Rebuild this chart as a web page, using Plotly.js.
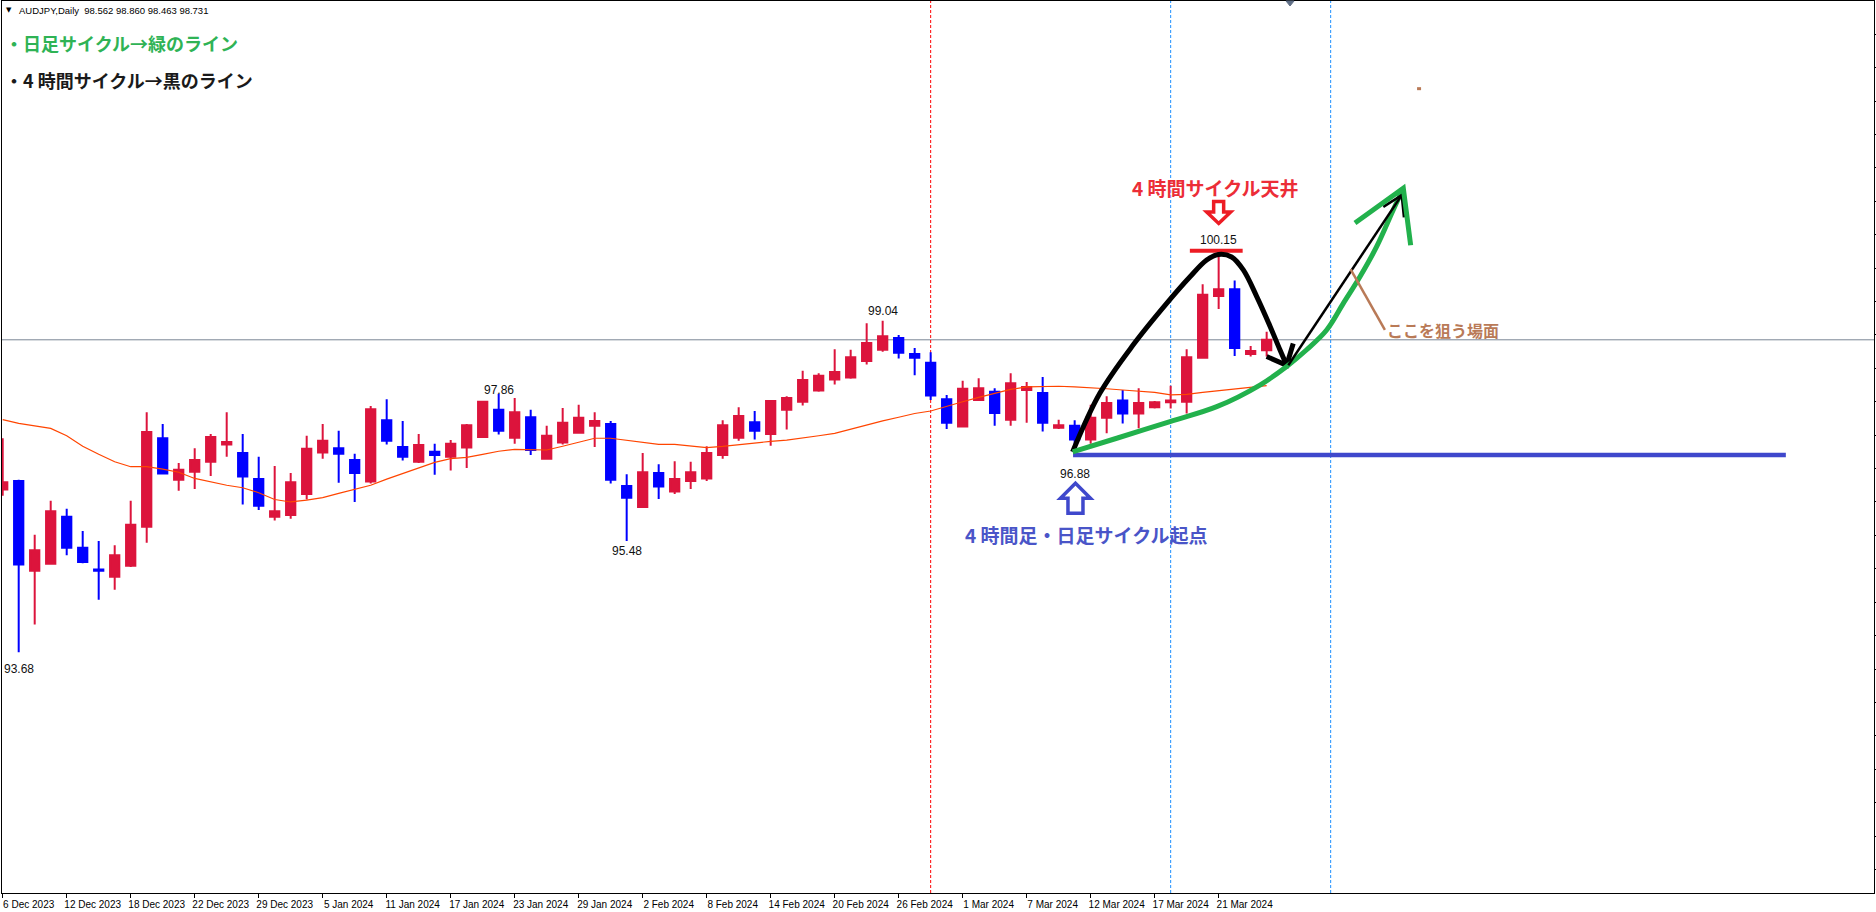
<!DOCTYPE html>
<html><head><meta charset="utf-8">
<script src="https://cdn.plot.ly/plotly-3.0.1.min.js"></script>
<style>html,body{margin:0;padding:0;background:#fff;overflow:hidden}#chart{width:1876px;height:912px}</style>
</head><body><div id="chart"></div>
<script>
// ---- AUDJPY Daily candles (bar index 0 = 6 Dec 2023) ----
const openP  = [96.31,96.45,95.00,95.11,95.87,95.37,95.02,94.90,95.08,95.71,
                97.14,96.47,96.60,96.76,97.04,96.90,96.48,95.87,95.90,96.24,
                96.91,96.98,96.79,96.44,97.43,97.00,96.76,96.92,96.84,96.99,
                97.16,97.60,97.15,97.48,96.81,97.07,97.23,97.34,97.37,96.37,
                96.03,96.58,96.28,96.45,96.49,96.87,97.15,97.40,97.21,97.60,
                97.73,97.91,98.09,98.12,98.39,98.57,98.76,98.50,98.36,97.77,
                97.33,97.76,97.89,97.44,97.92,97.87,97.31,97.34,97.12,97.47,
                97.75,97.54,97.64,97.72,97.73,98.44,99.44,99.55,98.50,98.562];
const highP  = [97.14,96.47,95.58,96.13,96.00,95.64,95.48,95.41,96.13,97.56,
                97.37,96.74,96.98,97.21,97.56,97.21,96.84,96.69,96.58,97.18,
                97.37,97.26,96.89,97.66,97.77,97.42,97.21,97.05,97.11,97.37,
                97.74,97.86,97.79,97.60,97.34,97.63,97.68,97.56,97.42,96.56,
                96.90,96.72,96.77,96.76,97.01,97.43,97.64,97.58,97.76,97.82,
                98.23,98.19,98.58,98.57,99.00,99.04,98.81,98.60,98.53,97.84,
                98.07,98.11,97.95,98.19,98.05,98.13,97.44,97.43,97.68,97.82,
                97.92,97.95,97.74,97.99,98.58,99.63,100.15,99.69,98.63,98.860];
const lowP   = [96.21,93.68,94.13,95.10,95.25,95.12,94.53,94.69,95.06,95.45,
                96.57,96.29,96.32,96.53,96.84,96.07,95.98,95.81,95.84,96.15,
                96.81,96.42,96.11,96.41,97.04,96.78,96.74,96.55,96.62,96.66,
                97.15,97.20,97.05,96.87,96.81,97.04,97.23,97.00,96.41,95.48,
                96.03,96.16,96.24,96.32,96.45,96.81,97.10,97.12,97.02,97.28,
                97.67,97.89,98.01,98.10,98.33,98.54,98.43,98.16,97.76,97.29,
                97.33,97.76,97.34,97.34,97.39,97.25,97.29,96.88,97.05,97.22,
                97.38,97.30,97.62,97.62,97.54,98.44,99.23,98.47,98.46,98.463];
const closeP = [96.43,95.10,95.33,95.96,95.37,95.14,95.00,95.25,95.74,97.24,
                96.57,96.63,96.79,97.16,97.08,96.52,96.05,95.96,96.43,96.97,
                97.10,96.89,96.58,97.61,97.10,96.84,97.03,96.87,97.05,97.35,
                97.73,97.26,97.56,96.95,97.18,97.39,97.47,97.42,96.47,96.18,
                96.59,96.36,96.48,96.59,96.90,97.35,97.50,97.26,97.74,97.79,
                98.08,98.15,98.21,98.45,98.68,98.79,98.52,98.44,97.83,97.39,
                97.94,97.95,97.55,98.03,97.97,97.39,97.35,97.12,97.47,97.71,
                97.54,97.71,97.72,97.75,98.45,99.46,99.55,98.60,98.55,98.731];
// moving average (orange-red line)
const maValues = [97.44,97.38,97.34,97.30,97.18,97.01,96.88,96.76,96.68,96.68,
                  96.64,96.59,96.49,96.43,96.38,96.34,96.26,96.15,96.11,96.14,
                  96.18,96.25,96.31,96.38,96.48,96.57,96.66,96.75,96.81,96.83,
                  96.88,96.93,96.96,96.95,96.95,97.01,97.08,97.14,97.14,97.11,
                  97.07,97.04,97.04,97.01,96.99,97.01,97.04,97.06,97.09,97.11,
                  97.14,97.18,97.22,97.29,97.35,97.42,97.48,97.54,97.58,97.66,
                  97.73,97.80,97.87,97.93,97.97,97.98,97.98,97.97,97.96,97.94,
                  97.92,97.90,97.88,97.84,97.85,97.88,97.91,97.94,97.96,97.99];
// date axis labels (every 4th bar)
const tickIdx  = [0,4,8,12,16,20,24,28,32,36,40,44,48,52,56,60,64,68,72,76];
const tickText = ["6 Dec 2023","12 Dec 2023","18 Dec 2023","22 Dec 2023","29 Dec 2023",
                  "5 Jan 2024","11 Jan 2024","17 Jan 2024","23 Jan 2024","29 Jan 2024",
                  "2 Feb 2024","8 Feb 2024","14 Feb 2024","20 Feb 2024","26 Feb 2024",
                  "1 Mar 2024","7 Mar 2024","12 Mar 2024","17 Mar 2024","21 Mar 2024"];
const bidPrice = 98.731;
const redVLines  = [58];
const blueVLines = [73, 83];
// price labels placed on chart: [bar, price, text]
const priceLabelBar   = [1, 39, 31, 55, 76, 67];
const priceLabelPrice = [93.41, 95.31, 97.92, 99.19, 100.34, 96.57];
const priceLabelText  = ["93.68","95.48","97.86","99.04","100.15","96.88"];
// hand drawings (bar index, price)
const baseLineX = [66.9, 111.45];  const baseLineY = [96.87, 96.87];
const topLineX  = [74.2, 77.5];    const topLineY  = [100.17, 100.17];
const blackCurveX = [66.87,68.58,70.66,72.75,74.21,75.25,75.98,76.81,77.54,78.38,79.23,79.83,80.25];
const blackCurveY = [96.92,97.87,98.65,99.32,99.75,100.02,100.11,100.07,99.86,99.43,98.94,98.57,98.32];
const blackHeadX  = [79.0, 80.25, 80.66];
const blackHeadY  = [98.46, 98.32, 98.67];
const thinArrowX  = [80.35, 87.44];
const thinArrowY  = [98.32, 101.07];
const thinHeadX   = [86.29, 87.44, 87.58];
const thinHeadY   = [100.88, 101.07, 100.71];
const greenCurveX = [66.87,69.63,72.96,75.88,78.58,80.25,81.50,82.75,83.79,84.83,85.88,86.91,87.54];
const greenCurveY = [96.92,97.14,97.41,97.65,98.00,98.30,98.57,98.89,99.32,99.75,100.24,100.83,101.18];
const greenHeadX  = [84.52, 87.54, 88.0];
const greenHeadY  = [100.62, 101.18, 100.26];
const brownLineX  = [84.25, 86.39];
const brownLineY  = [99.87, 98.89];
const brownDotX   = [88.4, 88.65];
const brownDotY   = [102.79, 102.79];
const upArrowPos   = [67.05, 96.17];
const downArrowPos = [76.0, 100.79];

const barIdx = openP.map((_, i) => i);
const JP = 'Noto Sans CJK JP';

function line(x, y, color, w, shape) {
  return {type:'scatter', mode:'lines', x:x, y:y, hoverinfo:'skip', showlegend:false,
          line:{color:color, width:w, shape:shape || 'linear', smoothing:1}};
}

const traces = [
  {type:'candlestick', x:barIdx, open:openP, high:highP, low:lowP, close:closeP,
   increasing:{line:{color:'#DC143C', width:2}, fillcolor:'#DC143C'},
   decreasing:{line:{color:'#0000FF', width:2}, fillcolor:'#0000FF'},
   whiskerwidth:0, hoverinfo:'skip', showlegend:false},
  line(barIdx, maValues, '#FF4500', 1.2),
  line(baseLineX, baseLineY, '#3F48CC', 4.5),
  line(topLineX, topLineY, '#ED1C24', 4),
  line(blackCurveX, blackCurveY, '#000000', 5, 'spline'),
  line(blackHeadX, blackHeadY, '#000000', 5),
  line(greenCurveX, greenCurveY, '#22B14C', 5, 'spline'),
  line(thinArrowX, thinArrowY, '#000000', 2.5),
  line(thinHeadX, thinHeadY, '#000000', 2.5),
  line(greenHeadX, greenHeadY, '#22B14C', 5),
  line(brownLineX, brownLineY, '#B97A57', 2.5),
  line(brownDotX, brownDotY, '#B97A57', 3)
];

const shapes = [
  {type:'line', xref:'paper', x0:0, x1:1, yref:'y', y0:bidPrice, y1:bidPrice,
   line:{color:'#7A8594', width:1}, layer:'below'}
];
redVLines.forEach(v => shapes.push({type:'line', xref:'x', x0:v, x1:v, yref:'paper', y0:0, y1:1,
   line:{color:'#FF0000', width:1, dash:'3px,2px'}, layer:'below'}));
blueVLines.forEach(v => shapes.push({type:'line', xref:'x', x0:v, x1:v, yref:'paper', y0:0, y1:1,
   line:{color:'#1E90FF', width:1, dash:'3px,2px'}, layer:'below'}));
// hollow arrows (pixel-sized, anchored at data points)
shapes.push({type:'path', xref:'x', yref:'y', xsizemode:'pixel', ysizemode:'pixel',
  xanchor:upArrowPos[0], yanchor:upArrowPos[1],
  path:'M 0,15 L 15,0 L 7.5,0 L 7.5,-15 L -7.5,-15 L -7.5,0 L -15,0 Z',
  line:{color:'#3F48CC', width:3.5}, fillcolor:'#FFFFFF'});
shapes.push({type:'path', xref:'x', yref:'y', xsizemode:'pixel', ysizemode:'pixel',
  xanchor:downArrowPos[0], yanchor:downArrowPos[1],
  path:'M 0,-11 L 12,0.5 L 5,0.5 L 5,11 L -5,11 L -5,0.5 L -12,0.5 Z',
  line:{color:'#ED1C24', width:3.5}, fillcolor:'#FFFFFF'});
// chart-shift marker at the top
shapes.push({type:'path', xref:'x', yref:'paper', xsizemode:'pixel', ysizemode:'pixel',
  xanchor:80.46, yanchor:1, path:'M -4,0 L 4,0 L 0,-5 Z',
  line:{color:'#5F6E86', width:1}, fillcolor:'#5F6E86'});

const annotations = [];
priceLabelText.forEach((t, k) => annotations.push({xref:'x', yref:'y', x:priceLabelBar[k], y:priceLabelPrice[k],
  text:t, showarrow:false, xanchor:'center', yanchor:'middle',
  font:{family:'Liberation Sans', size:12, color:'#111111'}}));
annotations.push(
  {xref:'paper', yref:'paper', x:0.0013, y:0.9898, xanchor:'left', yanchor:'middle', showarrow:false,
   text:'▼', font:{family:'DejaVu Sans', size:7, color:'#000'}},
  {xref:'paper', yref:'paper', x:0.0080, y:0.9898, xanchor:'left', yanchor:'middle', showarrow:false,
   text:'AUDJPY,Daily  98.562 98.860 98.463 98.731', font:{family:'Liberation Sans', size:9.5, color:'#000'}},
  {xref:'paper', yref:'paper', x:0.0005, y:0.9529, xanchor:'left', yanchor:'middle', showarrow:false,
   text:'・日足サイクル→緑のライン', font:{family:JP, size:18, color:'#2FB355', weight:'bold'}},
  {xref:'paper', yref:'paper', x:0.0005, y:0.9114, xanchor:'left', yanchor:'middle', showarrow:false,
   text:'・4 時間サイクル→黒のライン', font:{family:JP, size:18, color:'#1A1A1A', weight:'bold'}},
  {xref:'x', yref:'y', x:75.83, y:101.20, xanchor:'center', yanchor:'middle', showarrow:false,
   text:'4 時間サイクル天井', font:{family:JP, size:19, color:'#EC2D37', weight:'bold'}},
  {xref:'x', yref:'y', x:67.74, y:95.58, xanchor:'center', yanchor:'middle', showarrow:false,
   text:'4 時間足・日足サイクル起点', font:{family:JP, size:19, color:'#4A55C8', weight:'bold'}},
  {xref:'x', yref:'y', x:86.4, y:98.89, xanchor:'left', yanchor:'middle', showarrow:false,
   text:'ここを狙う場面', font:{family:JP, size:16, color:'#B97A57', weight:'bold'}}
);

const layout = {
  width:1876, height:912,
  margin:{l:2, r:2, t:1, b:19, pad:0},
  paper_bgcolor:'#FFFFFF', plot_bgcolor:'#FFFFFF',
  showlegend:false, hovermode:false,
  boxgap:0.42, boxgroupgap:0,
  xaxis:{type:'linear', range:[-0.044, 116.96], rangeslider:{visible:false}, showgrid:false, zeroline:false,
         showline:true, mirror:true, linecolor:'#000', linewidth:1,
         ticks:'outside', ticklen:4, tickcolor:'#000', tickwidth:1,
         tickmode:'array', tickvals:tickIdx, ticktext:tickText,
         tickfont:{family:'Liberation Sans', size:10, color:'#000'},
         ticklabelshift:26, ticklabelstandoff:-2},
  yaxis:{range:[89.79, 104.207], side:'right', showgrid:false, zeroline:false,
         showline:true, mirror:true, linecolor:'#000', linewidth:1,
         ticks:'outside', ticklen:3, tickcolor:'#000', tickmode:'linear', tick0:94.49, dtick:0.54,
         showticklabels:false},
  shapes:shapes, annotations:annotations
};

Plotly.newPlot('chart', traces, layout, {staticPlot:true, displayModeBar:false});
</script></body></html>
